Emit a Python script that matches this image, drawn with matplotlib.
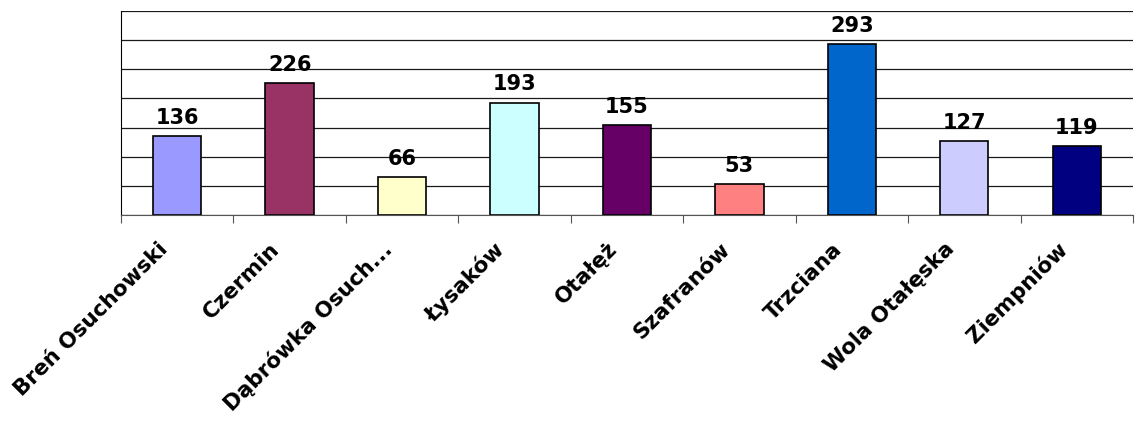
import numpy as np
import matplotlib
matplotlib.use("Agg")
import matplotlib.pyplot as plt
from matplotlib.transforms import ScaledTranslation

villages = [
    "Breń Osuchowski", "Czermin", "Dąbrówka Osuch...", "Łysaków", "Otałęż",
    "Szafranów", "Trzciana", "Wola Otałęska", "Ziempniów"
]
counts = [136, 226, 66, 193, 155, 53, 293, 127, 119]
bar_colors = [
    "#9999FF", "#993366", "#FFFFCC", "#CCFFFF", "#660066",
    "#FF8080", "#0066CC", "#CCCCFF", "#000080"
]
y_max = 350
y_step = 50

fig = plt.figure(figsize=(11.39, 4.27), dpi=100)
ax = fig.add_axes([0.1062, 0.4941, 0.8885, 0.4778])

x = np.arange(len(villages))
ax.bar(x, counts, width=0.43, color=bar_colors,
       edgecolor="black", linewidth=1.2, zorder=3)

for xi, v in zip(x, counts):
    ax.annotate(str(v), (xi, v), xytext=(0, 6.5), textcoords="offset points",
                ha="center", va="bottom", fontsize=15, fontweight="bold",
                zorder=4)

ax.set_xlim(-0.5, len(villages) - 0.5)
ax.set_ylim(0, y_max)
ax.set_yticks(np.arange(0, y_max + 1, y_step))
ax.yaxis.grid(True, color="#1a1a1a", linewidth=0.9, zorder=0)
ax.tick_params(axis="y", left=False, labelleft=False)

# ticks sit between the categories
ax.set_xticks(np.arange(-0.5, len(villages), 1.0))
ax.tick_params(axis="x", length=6, color="#555555", labelbottom=False)

# rotated category names, nudged a bit left and down from the bar centre
shift = ScaledTranslation(-13 / 100, -30 / 100, fig.dpi_scale_trans)
for xi, name in zip(x, villages):
    ax.text(xi, 0, name, transform=ax.get_xaxis_transform() + shift,
            rotation=45, rotation_mode="anchor", ha="right", va="center",
            fontsize=15.5, fontweight="bold")

ax.spines["right"].set_visible(False)
ax.spines["top"].set_visible(False)
ax.spines["left"].set_color("black")
ax.spines["bottom"].set_color("#555555")
ax.spines["bottom"].set_zorder(5)

plt.savefig("out.png", dpi=100)
plt.close()
